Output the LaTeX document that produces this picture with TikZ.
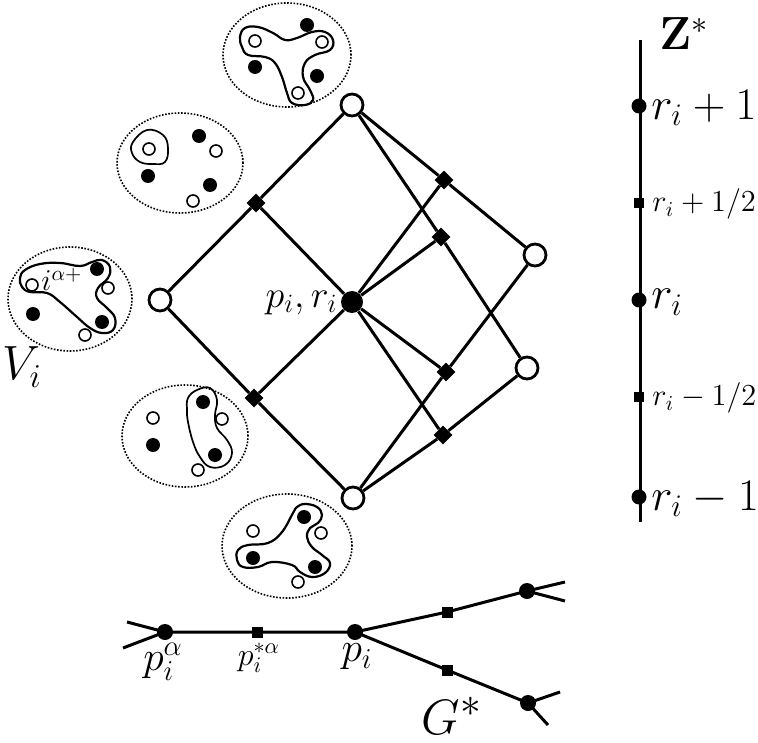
\documentclass[tikz,border=0pt]{standalone}
\usepackage{graphicx}
\begin{document}
\begin{tikzpicture}[x=0.5pt,y=-0.5pt,
  edge/.style={line width=1.5pt},
  wn/.style={circle, draw, fill=white, line width=1.4pt, minimum size=11pt, inner sep=0pt},
  bn/.style={circle, fill=black, minimum size=11pt, inner sep=0pt},
  dm/.style={rectangle, fill=black, rotate=45, minimum size=6.6pt, inner sep=0pt},
  tdot/.style={circle, fill=black, minimum size=8pt, inner sep=0pt},
  tsq/.style={rectangle, fill=black, minimum size=5.5pt, inner sep=0pt},
  adot/.style={circle, fill=black, minimum size=7.5pt, inner sep=0pt},
  asq/.style={rectangle, fill=black, minimum size=5.3pt, inner sep=0pt},
  sw/.style={circle, draw, fill=white, line width=0.8pt, minimum size=6pt, inner sep=0pt},
  sb/.style={circle, fill=black, minimum size=7pt, inner sep=0pt},
  cloud/.style={draw, line width=0.8pt, dash pattern=on 0.8pt off 0.8pt},
  lasso/.style={line width=1.1pt},
  thinlasso/.style={line width=0.85pt}
]
\useasboundingbox (0,0) rectangle (758,742);

% ---------- ellipses ----------
% 1 top
\draw[cloud] (287,55) ellipse [x radius=32pt, y radius=26pt];
\begin{scope}[shift={(287,55)}]
\draw[lasso] plot[smooth cycle, tension=0.7] coordinates {(-47,-18) (-42,-27) (-29,-28) (-14,-22) (-2,-15) (10,-17) (25,-23) (38,-23) (46,-15) (43,-5) (28,0) (18,8) (16,22) (23,35) (26,45) (18,50) (5,48) (0,38) (-5,22) (-12,8) (-22,2) (-39,0) (-45,-8)};
\end{scope}
\node[sb] (e1a) at (307,25) {};
\node[sw] (e1b) at (322,42) {};
\node[sw] (e1c) at (255,41) {};
\node[sb] (e1d) at (255,67) {};
\node[sb] (e1e) at (317,76) {};
\node[sw] (e1f) at (298,93) {};

% 2
\draw[cloud] (180,163) ellipse [x radius=31.5pt, y radius=25pt];
\begin{scope}[shift={(180,163)}]
\draw[thinlasso] plot[smooth cycle, tension=0.7] coordinates {(-33,-33) (-17,-28) (-12,-15) (-15,-1) (-27,1) (-40,-1) (-48,-10) (-47,-21)};
\end{scope}
\node[sw] (e2c) at (149,149) {};
\node[sb] (e2a) at (199,136) {};
\node[sw] (e2b) at (216,151) {};
\node[sb] (e2d) at (148,176) {};
\node[sb] (e2e) at (210,185) {};
\node[sw] (e2f) at (193,201) {};

% 3 (V_i)
\draw[cloud] (70,299) ellipse [x radius=31pt, y radius=26pt];
\begin{scope}[shift={(70,299)}]
\draw[lasso] plot[smooth cycle, tension=0.7] coordinates {(-45,-29) (-30,-35) (-10,-36) (10,-33) (22,-37) (32,-39) (40,-32) (38,-21) (28,-11) (27,-1) (37,9) (45,19) (43,31) (32,34) (20,29) (7,18) (-10,3) (-23,-6) (-40,-7) (-48,-12) (-50,-21)};
\end{scope}
\node[sw] (e3c) at (32,285) {};
\node[sb] (e3a) at (97,269) {};
\node[sw] (e3b) at (108,288) {};
\node[sb] (e3d) at (33,314) {};
\node[sb] (e3e) at (102,322) {};
\node[sw] (e3f) at (85,335) {};
\node[anchor=base west, inner sep=0pt] (ial) at (41,291) {\scalebox{1.05}{\Large $i^{\alpha+}$}};
\node (vi) at (22,367) {\scalebox{1.16}{\huge $V_i$}};

% 4
\draw[cloud] (185,436) ellipse [x radius=31.5pt, y radius=25.5pt];
\begin{scope}[shift={(185,436)}]
\draw[thinlasso] plot[smooth cycle, tension=0.7] coordinates {(12,-46) (25,-48) (32,-36) (30,-21) (32,-8) (42,4) (47,17) (40,29) (25,31) (15,21) (8,6) (3,-14) (2,-26) (3,-38)};
\end{scope}
\node[sw] (e4c) at (153,418) {};
\node[sb] (e4d) at (153,445) {};
\node[sb] (e4a) at (203,402) {};
\node[sw] (e4b) at (222,419) {};
\node[sb] (e4e) at (215,455) {};
\node[sw] (e4f) at (198,470) {};

% 5 bottom
\draw[cloud] (287,546) ellipse [x radius=32.5pt, y radius=26pt];
\begin{scope}[shift={(287,546)}]
\draw[lasso] plot[smooth cycle, tension=0.7] coordinates {(18,-42) (30,-39) (35,-31) (31,-23) (23,-18) (20,-9) (25,1) (35,9) (43,17) (38,27) (25,31) (13,26) (5,19) (-15,16) (-29,21) (-44,21) (-50,14) (-49,4) (-39,-1) (-19,-3) (-5,-14) (6,-33) (10,-39)};
\end{scope}
\node[sw] (e5c) at (253,531) {};
\node[sb] (e5a) at (304,517) {};
\node[sw] (e5b) at (321,533) {};
\node[sb] (e5d) at (253,558) {};
\node[sb] (e5e) at (315,567) {};
\node[sw] (e5f) at (298,582) {};

% ---------- graph ----------
\node[wn] (top) at (352,105) {};
\node[wn] (lft) at (160,300) {};
\node[bn] (ctr) at (352,302) {};
\node[wn] (bot) at (353,498) {};
\node[wn] (ru) at (535,255) {};
\node[wn] (rl) at (527,368) {};
\node[dm] (d1) at (256,203) {};
\node[dm] (d2) at (254,398) {};
\node[dm] (d3) at (444,180) {};
\node[dm] (d4) at (441,237) {};
\node[dm] (d5) at (446,372) {};
\node[dm] (d6) at (443,435) {};

\draw[edge] (top) -- (d1) -- (lft) -- (d2) -- (bot);
\draw[edge] (top) -- (d3) -- (ru);
\draw[edge] (top) -- (d4) -- (rl);
\draw[edge] (bot) -- (d5) -- (ru);
\draw[edge] (bot) -- (d6) -- (rl);
\foreach \d in {d1,d2,d3,d4,d5,d6} \draw[edge] (ctr) -- (\d);
\node[anchor=base east, inner sep=0pt] (pr) at (338,307) {\scalebox{1.1}{\LARGE $p_i,r_i$}};

% ---------- bottom tree ----------
\node[tdot] (pa) at (165,632) {};
\node[tsq] (ps) at (257,632) {};
\node[tdot] (pn) at (355,632) {};
\node[tsq] (su) at (447,612) {};
\node[tdot] (nu) at (527,591) {};
\node[tsq] (sl) at (447,670) {};
\node[tdot] (nl) at (528,703) {};
\coordinate (s1) at (127,622);
\coordinate (s2) at (123,648);
\coordinate (s3) at (565,582);
\coordinate (s4) at (565,601);
\coordinate (s5) at (560,692);
\coordinate (s6) at (548,725);
\draw[edge] (pa.center) -- (ps.center) -- (pn.center) -- (su.center) -- (nu.center);
\draw[edge] (pn.center) -- (sl.center) -- (nl.center);
\draw[edge] (s1) -- (pa.center) -- (s2);
\draw[edge] (s3) -- (nu.center) -- (s4);
\draw[edge] (s5) -- (nl.center) -- (s6);
\node[inner sep=0pt] (lpa) at (163,662) {\huge $p_i^{\alpha}$};
\node[inner sep=0pt] (lps) at (259,658) {\scalebox{1.11}{\Large $p_i^{*\alpha}$}};
\node[inner sep=0pt] (lpn) at (357,657) {\huge $p_i$};
\node[inner sep=0pt] (gs) at (452,716) {\Huge $G^*$};

% ---------- axis ----------
\coordinate (at) at (640,40);
\coordinate (ab) at (640,522);
\draw[edge] (at) -- (ab);
\node[adot] (z1) at (639,106) {};
\node[asq] (zh1) at (639,203) {};
\node[adot] (z0) at (639,300) {};
\node[asq] (zh0) at (639,397) {};
\node[adot] (zm) at (639,497) {};
\node[inner sep=0pt] (zs) at (684,34) {\scalebox{1.12}{\huge $\mathbf{Z}^*$}};
\node[anchor=west, inner sep=0pt] (l1) at (651,108) {\scalebox{1.09}{\huge $r_i+1$}};
\node[anchor=west, inner sep=0pt] (l2) at (652,204) {\scalebox{1.06}{\Large $r_i+1/2$}};
\node[anchor=west, inner sep=0pt] (l3) at (651,302) {\scalebox{1.09}{\huge $r_i$}};
\node[anchor=west, inner sep=0pt] (l4) at (652,398) {\scalebox{1.06}{\Large $r_i-1/2$}};
\node[anchor=west, inner sep=0pt] (l5) at (651,499) {\scalebox{1.09}{\huge $r_i-1$}};
\end{tikzpicture}
\end{document}
